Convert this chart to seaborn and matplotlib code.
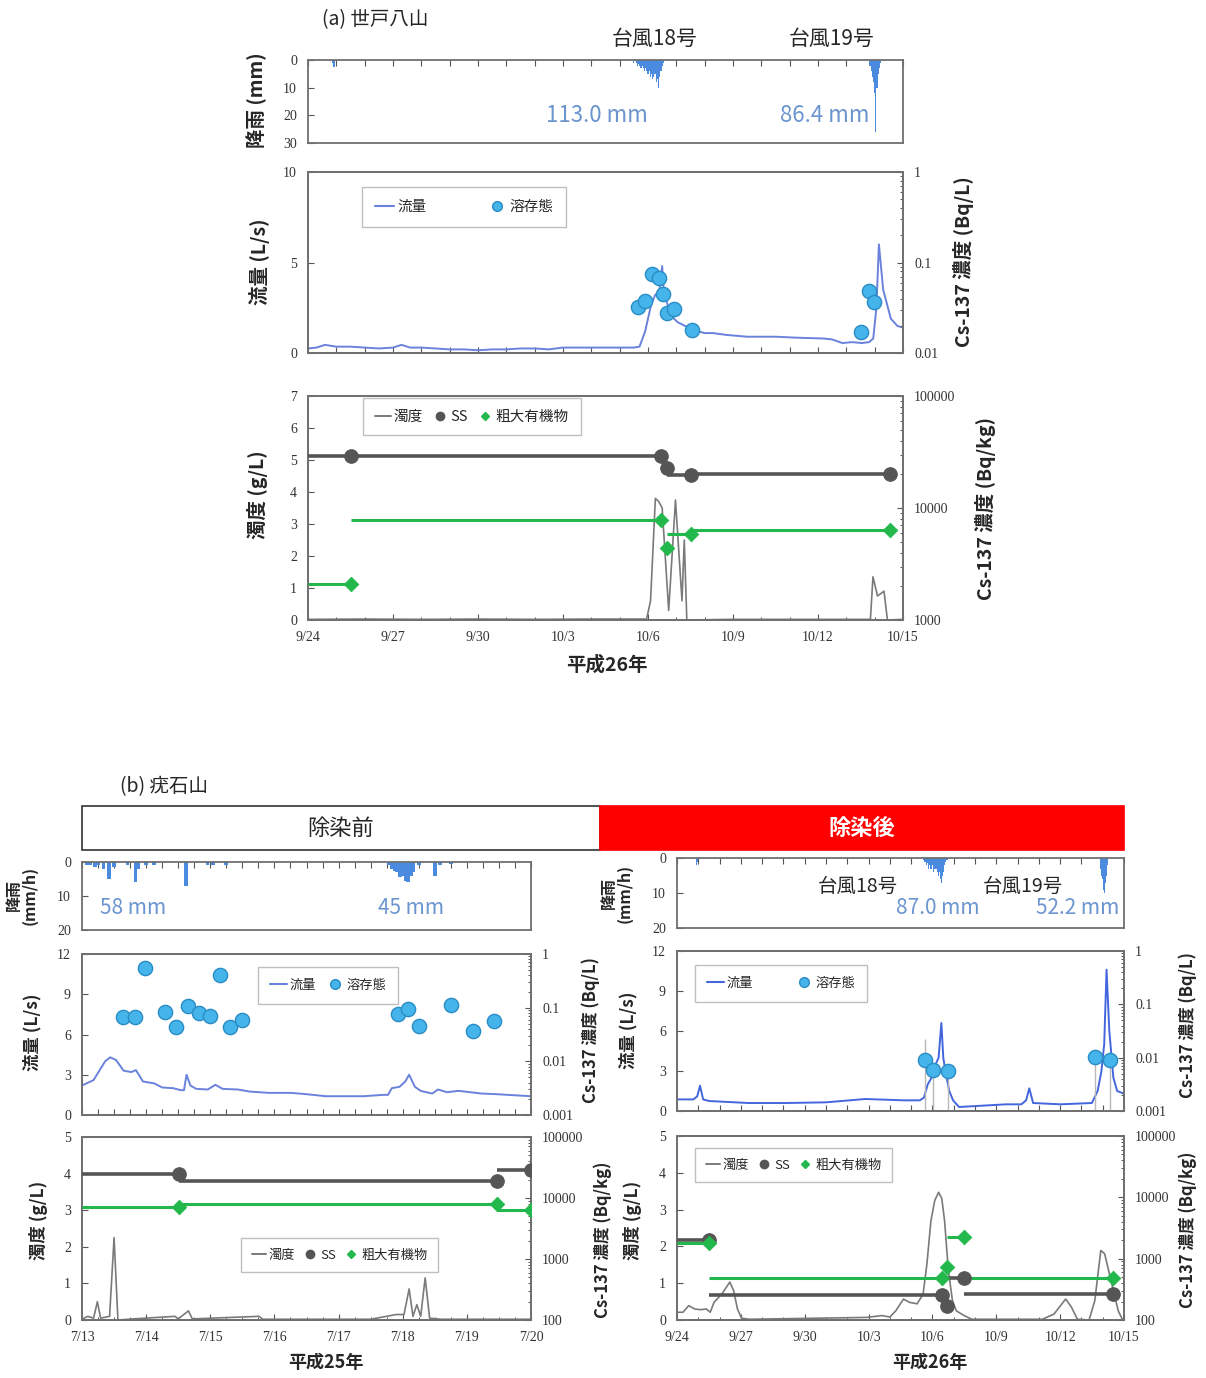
import matplotlib
matplotlib.use("Agg")
import matplotlib.pyplot as plt
from matplotlib.lines import Line2D
from matplotlib.patches import Rectangle
from matplotlib.ticker import MultipleLocator, FixedLocator, LogLocator, NullFormatter, FuncFormatter
import seaborn as sns

sns.set_style("ticks")
plt.rcParams["font.family"] = ["Noto Sans CJK JP", "DejaVu Sans"]

W, H = 1206, 1378

# colours
RAIN = "#4a8be0"
FLOW = "#6a82dc"
FLOW2 = "#4466dd"
DISS = "#45b4ea"
DISS_EDGE = "#2a8cc4"
SS_C = "#555555"
ORG = "#22b84c"
TURB = "#7a7a7a"
MM_TXT = "#6b95cf"

# ================= (a) 世戸八山  H26 9/24 - 10/15 (days from 9/24) =================
a_ticklabels = ["9/24", "9/27", "9/30", "10/3", "10/6", "10/9", "10/12", "10/15"]

# hourly rain (hour from 9/24 0:00, mm)
a_rain_hour = [21, 22,
               276, 277, 278, 279, 280, 281, 282, 283, 284, 285, 286, 287, 288, 289,
               290, 291, 292, 293, 294, 295, 296, 297, 298, 299, 300, 301, 302,
               476, 477, 478, 479, 480, 481, 482, 483, 484, 485]
a_rain_mm = [1, 2.5,
             1, 0.5, 1, 2, 1.5, 2, 3, 2, 3, 4, 3, 4, 5, 4,
             6, 5, 7, 6, 5, 8, 7, 10, 6, 4, 2, 1, 0.5,
             2, 4, 6, 8, 12, 26, 10, 5, 3, 1]

# discharge (L/s)
a_flow_day = [0, 0.3, 0.6, 1.0, 1.5, 2.0, 2.5, 3.0, 3.3, 3.6,
              4.0, 4.5, 5.0, 5.5, 6.0, 6.5, 7.0, 7.5, 8.0, 8.5,
              9.0, 9.5, 10.0, 10.5, 11.0, 11.5, 11.7, 11.9, 12.1, 12.25,
              12.4, 12.5, 12.55, 12.7, 12.85, 13.05, 13.3, 13.65, 14.0, 14.3,
              14.76, 15.5, 16.5, 17.2, 18.2, 18.5, 18.86, 19.2, 19.55, 19.8,
              19.95, 20.06, 20.15, 20.3, 20.57, 20.8, 21.0]
a_flow = [0.25, 0.3, 0.45, 0.35, 0.35, 0.3, 0.25, 0.3, 0.45, 0.3,
          0.3, 0.25, 0.2, 0.2, 0.15, 0.2, 0.2, 0.25, 0.25, 0.2,
          0.3, 0.3, 0.3, 0.3, 0.3, 0.3, 0.35, 1.2, 2.6, 3.2,
          3.4, 4.8, 3.6, 2.6, 2.0, 1.7, 1.5, 1.25, 1.1, 1.1,
          1.0, 0.9, 0.9, 0.85, 0.8, 0.75, 0.55, 0.6, 0.55, 0.6,
          0.8, 2.5, 6.0, 3.5, 1.9, 1.5, 1.4]

# dissolved Cs-137 (Bq/L)
a_diss_day = [11.65, 11.88, 12.14, 12.40, 12.53, 12.67, 12.93, 13.56, 19.50, 19.80, 19.96]
a_diss = [0.032, 0.038, 0.075, 0.068, 0.045, 0.028, 0.031, 0.018, 0.017, 0.048, 0.037]

# turbidity (g/L)
a_turb_day = [0, 2, 4, 6, 8, 10, 11.95, 12.09, 12.26, 12.38, 12.5, 12.73, 12.97, 13.2,
              13.28, 13.37, 15, 17, 19.85, 19.94, 20.1, 20.33, 20.45, 21]
a_turb = [0.02, 0.03, 0.02, 0.03, 0.02, 0.03, 0.03, 0.6, 3.8, 3.7, 3.5, 0.3, 3.75, 0.6,
          2.5, 0.0, 0.02, 0.02, 0.02, 1.35, 0.75, 0.9, 0.0, 0.02]

# SS and coarse organic matter Cs-137 (Bq/kg), sample days
a_samp_day = [1.5, 12.46, 12.68, 13.5, 20.54]
a_ss = [29000, 29000, 22800, 19600, 20300]
a_org = [2100, 7800, 4350, 5900, 6350]

# ================= (b) 疣石山 before: H25 7/13 - 7/20 =================
b1_ticklabels = ["7/13", "7/14", "7/15", "7/16", "7/17", "7/18", "7/19", "7/20"]
b1_rain_hour = [2, 3, 5, 6, 8, 10, 12, 17, 20, 21, 24, 27, 39, 47, 49, 54,
                115, 116, 117, 118, 119, 120, 121, 122, 123, 124, 126, 132, 134, 138]
b1_rain_mm = [1, 0.8, 1.5, 1, 2, 5, 1.5, 1, 6, 2, 1, 1, 7, 1, 0.8, 0.8,
              1, 2, 2.5, 3, 4.5, 4, 5.5, 6, 4, 3, 1, 4, 1, 0.5]

b1_flow_day = [0, 0.18, 0.36, 0.44, 0.53, 0.65, 0.77, 0.84, 0.95, 1.13,
               1.25, 1.42, 1.54, 1.59, 1.63, 1.69, 1.78, 1.96, 2.08, 2.19,
               2.43, 2.61, 2.91, 3.26, 3.5, 3.8, 4.39, 4.69, 4.77, 4.83,
               4.95, 5.04, 5.1, 5.19, 5.28, 5.46, 5.55, 5.69, 5.87, 6.05,
               6.23, 6.47, 6.64, 7.0]
b1_flow = [2.2, 2.6, 4.0, 4.3, 4.1, 3.3, 3.2, 3.35, 2.5, 2.35,
           2.05, 2.0, 1.85, 1.85, 3.0, 2.2, 1.95, 1.9, 2.25, 1.95,
           1.9, 1.75, 1.65, 1.65, 1.55, 1.4, 1.4, 1.5, 1.5, 2.0,
           2.1, 2.5, 3.0, 2.1, 1.8, 1.6, 1.9, 1.7, 1.8, 1.7,
           1.6, 1.55, 1.5, 1.4]

b1_diss_day = [0.64, 0.82, 0.98, 1.30, 1.47, 1.65, 1.82, 1.99, 2.15, 2.31, 2.49,
               4.92, 5.09, 5.26, 5.75, 6.09, 6.42]
b1_diss = [0.068, 0.068, 0.54, 0.084, 0.043, 0.109, 0.080, 0.069, 0.406, 0.043, 0.059,
           0.076, 0.094, 0.045, 0.114, 0.036, 0.057]

b1_turb_day = [0, 0.09, 0.18, 0.24, 0.29, 0.43, 0.5, 0.56, 0.8, 1.45, 1.5, 1.66, 1.72,
               2.76, 2.82, 4.5, 4.9, 5.02, 5.1, 5.16, 5.22, 5.28, 5.35, 5.42, 5.6, 7.0]
b1_turb = [0.02, 0.1, 0.05, 0.5, 0.05, 0.1, 2.25, 0.0, 0.03, 0.1, 0.03, 0.25, 0.03,
           0.1, 0.02, 0.02, 0.15, 0.15, 0.85, 0.1, 0.42, 0.1, 1.15, 0.05, 0.02, 0.02]

b1_samp_day = [1.51, 6.47, 7.0]
b1_ss = [24850, 18850, 28500]
b1_org = [7100, 7840, 6260]

# ================= (b) 疣石山 after: H26 9/24 - 10/15 =================
b2_rain_hour = [22, 23,
                278, 279, 280, 281, 282, 283, 284, 285, 286, 287, 288, 289, 290, 291,
                292, 293, 294, 295, 296, 297, 298, 299, 300, 301, 302, 303, 304, 305,
                477, 478, 479, 480, 481, 482, 483, 484, 485]
b2_rain_mm = [2, 1,
              0.5, 1, 1, 2, 1.5, 2, 3, 2, 3, 3, 2, 4, 3, 3,
              4, 3, 4, 5, 4, 6, 7, 5, 4, 3, 2, 1, 0.5, 0.5,
              2, 3, 5, 6, 9, 10, 7, 5, 2]

b2_flow_day = [0, 0.77, 0.95, 1.08, 1.23, 1.5, 3.34, 5.17, 7.0, 8.84,
               10.68, 11.41, 11.6, 11.78, 11.96, 12.15, 12.29, 12.42, 12.51, 12.61,
               12.79, 12.97, 13.25, 14.35, 15.45, 16.18, 16.4, 16.55, 16.73, 18.02,
               19.49, 19.76, 19.94, 20.07, 20.18, 20.31, 20.5, 20.68, 21.0]
b2_flow = [0.87, 0.87, 1.1, 1.9, 0.87, 0.75, 0.6, 0.6, 0.65, 0.9,
           0.8, 0.8, 1.0, 2.0, 2.5, 3.5, 4.0, 6.6, 4.0, 3.0,
           1.5, 0.8, 0.3, 0.4, 0.5, 0.5, 0.8, 1.7, 0.6, 0.5,
           0.6, 1.5, 3.0, 5.0, 10.6, 6.0, 2.5, 1.5, 1.3]

b2_diss_day = [11.66, 12.02, 12.73, 19.63, 20.35]
b2_diss = [0.009, 0.0058, 0.0056, 0.0103, 0.009]
b2_diss_hi = [0.022, 0.0058, 0.0056, 0.0103, 0.009]

b2_turb_day = [0, 0.28, 0.55, 0.83, 1.1, 1.38, 1.56, 1.74, 2.11, 2.48, 2.66, 2.84, 3.03,
               3.39, 8.9, 9.63, 10.0, 10.28, 10.64, 10.92, 11.28, 11.56, 11.74, 11.93,
               12.11, 12.29, 12.44, 12.57, 12.75, 12.94, 13.12, 13.49, 13.85, 17.16,
               17.71, 18.26, 18.53, 18.81, 19.36, 19.63, 19.91, 20.09, 20.28, 20.46,
               20.73, 20.92]
b2_turb = [0.21, 0.21, 0.39, 0.3, 0.28, 0.3, 0.21, 0.48, 0.71, 1.03, 0.8, 0.3, 0.05,
           0.02, 0.07, 0.12, 0.08, 0.25, 0.57, 0.48, 0.44, 0.7, 1.52, 2.7,
           3.25, 3.47, 3.3, 2.7, 1.34, 0.53, 0.25, 0.12, 0.02, 0.02,
           0.16, 0.57, 0.35, 0.02, 0.0, 0.53, 1.89, 1.8, 1.34, 0.9,
           0.25, 0.02]

b2_samp_day = [1.5, 12.45, 12.67, 13.5, 20.5]
b2_ss = [2025, 256, 171, 479, 266]
b2_org = [1786, 479, 724, 2296, 479]

# ---------------------------------------------------------------------------
fig = plt.figure(figsize=(W / 100, H / 100), dpi=100)


def txt(x, y, s, **kw):
    ha = kw.pop("ha", "center")
    va = kw.pop("va", "center")
    fig.text(x / W, 1 - y / H, s, ha=ha, va=va, **kw)


def style(ax):
    for s in ax.spines.values():
        s.set_visible(True)
        s.set_color("#707070")
        s.set_linewidth(1.3)
    ax.tick_params(which="major", direction="in", labelsize=10, length=4, width=0.8, pad=8,
                   color="#555555", labelcolor="#333333", labelfontfamily="Liberation Serif")
    ax.tick_params(which="minor", direction="in", length=2.5, width=0.7, color="#555555")
    ax.set_xlabel("")
    ax.set_ylabel("")


def box_ax(x0, y0, x1, y1):
    ax = fig.add_axes([x0 / W, 1 - y1 / H, (x1 - x0) / W, (y1 - y0) / H])
    style(ax)
    return ax


def log_right(ax, lo, hi):
    ax2 = ax.twinx()
    style(ax2)
    ax2.set_yscale("log")
    ax2.set_ylim(lo, hi)
    ax2.yaxis.set_major_locator(LogLocator(base=10))
    ax2.yaxis.set_major_formatter(FuncFormatter(lambda v, p: f"{v:g}"))
    ax2.yaxis.set_minor_locator(LogLocator(base=10, subs=range(2, 10)))
    ax2.yaxis.set_minor_formatter(NullFormatter())
    ax2.tick_params(axis="y", left=False, right=True, labelleft=False, labelright=True)
    return ax2


def rain_axis(box, hours, mm, ymax, yticks, ndays, step, width):
    ax = box_ax(*box)
    ax.bar([h / 24 for h in hours], mm, width=width / 24, color=RAIN, linewidth=0)
    ax.set_xlim(0, ndays)
    ax.set_ylim(ymax, 0)
    ax.set_yticks(yticks)
    ax.xaxis.set_major_locator(MultipleLocator(step))
    ax.tick_params(axis="x", top=True, bottom=False, labelbottom=False)
    return ax


def flow_axis(box, fday, fval, fcol, dday, dval, ymax, yticks, rlo, ndays, step):
    ax = box_ax(*box)
    sns.lineplot(x=fday, y=fval, ax=ax, color=fcol, lw=1.4)
    ax.set_xlim(0, ndays)
    ax.set_ylim(0, ymax)
    ax.set_yticks(yticks)
    ax.xaxis.set_major_locator(MultipleLocator(step))
    ax.tick_params(axis="x", labelbottom=False)
    style(ax)
    ax2 = log_right(ax, rlo, 1)
    sns.scatterplot(x=dday, y=dval, ax=ax2, s=105, color=DISS, edgecolor=DISS_EDGE,
                    linewidth=1.0, zorder=5)
    ax2.set_xlim(0, ndays)
    style(ax2)
    ax2.tick_params(axis="y", left=False, right=True, labelleft=False, labelright=True)
    return ax, ax2


def turb_axis(box, tday, tval, sday, ss, org, ymax, rlo, ndays, step, ticklabels, tickstep):
    ax = box_ax(*box)
    sns.lineplot(x=tday, y=tval, ax=ax, color=TURB, lw=1.2)
    ax.set_xlim(0, ndays)
    ax.set_ylim(0, ymax)
    ax.set_yticks(range(0, ymax + 1))
    ax.xaxis.set_major_locator(FixedLocator([i * tickstep for i in range(len(ticklabels))]))
    ax.set_xticklabels(ticklabels)
    ax.xaxis.set_minor_locator(MultipleLocator(step))
    style(ax)
    ax2 = log_right(ax, rlo, 100000)
    starts = [0] + sday[:-1]
    ax2.hlines(ss, starts, sday, color=SS_C, lw=2.6, zorder=3)
    ax2.hlines(org, starts, sday, color=ORG, lw=2.2, zorder=3)
    sns.scatterplot(x=sday, y=ss, ax=ax2, s=95, color=SS_C, edgecolor=SS_C, zorder=5)
    sns.scatterplot(x=sday, y=org, ax=ax2, s=55, marker="D", color=ORG, edgecolor=ORG, zorder=6)
    ax2.set_xlim(0, ndays)
    style(ax2)
    ax2.tick_params(axis="y", left=False, right=True, labelleft=False, labelright=True)
    return ax, ax2


def flow_legend(ax, x, y, col, spacing, fs):
    h = [Line2D([], [], color=col, lw=1.5),
         Line2D([], [], ls="none", marker="o", ms=7, mfc=DISS, mec=DISS_EDGE)]
    leg = ax.legend(h, ["流量", "溶存態"], loc="upper left", ncol=2,
                    bbox_to_anchor=(x / W, 1 - y / H), bbox_transform=fig.transFigure,
                    frameon=True, fancybox=False, edgecolor="#b0b0b0", fontsize=fs,
                    handlelength=1.3, handletextpad=0.2, columnspacing=spacing, borderpad=0.9,
                    borderaxespad=0)
    leg.get_frame().set_linewidth(1.0)


def turb_legend(ax, x, y, fs):
    h = [Line2D([], [], color=TURB, lw=1.4),
         Line2D([], [], ls="none", marker="o", ms=6, mfc=SS_C, mec=SS_C),
         Line2D([], [], ls="none", marker="D", ms=4, mfc=ORG, mec=ORG)]
    leg = ax.legend(h, ["濁度", "SS", "粗大有機物"], loc="upper left", ncol=3,
                    bbox_to_anchor=(x / W, 1 - y / H), bbox_transform=fig.transFigure,
                    frameon=True, fancybox=False, edgecolor="#b0b0b0", fontsize=fs,
                    handlelength=1.1, handletextpad=0.2, columnspacing=0.6, borderpad=0.8,
                    borderaxespad=0)
    leg.get_frame().set_linewidth(1.0)


# ======================= panel (a) =======================
rain_axis((308, 60, 903, 143), a_rain_hour, a_rain_mm, 30, [0, 10, 20, 30], 21, 1, 1)
ax, ax2 = flow_axis((308, 172, 903, 353), a_flow_day, a_flow, FLOW, a_diss_day, a_diss,
                    10, [0, 5, 10], 0.01, 21, 1)
flow_legend(ax2, 362, 187, FLOW, 4.2, 10.5)
ax, ax2 = turb_axis((308, 396, 903, 620), a_turb_day, a_turb, a_samp_day, a_ss, a_org,
                    7, 1000, 21, 1, a_ticklabels, 3)
turb_legend(ax2, 363, 398, 10.5)

txt(322, 20, "(a) 世戸八山", fontsize=14, ha="left")
txt(655, 39, "台風18号", fontsize=15)
txt(832, 39, "台風19号", fontsize=15)
txt(597, 116, "113.0 mm", fontsize=16, color=MM_TXT)
txt(825, 116, "86.4 mm", fontsize=16, color=MM_TXT)
txt(257, 100, "降雨 (mm)", fontsize=14, fontweight="bold", rotation=90)
txt(260, 262, "流量 (L/s)", fontsize=14, fontweight="bold", rotation=90)
txt(963, 262, "Cs-137 濃度 (Bq/L)", fontsize=14, fontweight="bold", rotation=90)
txt(257, 495, "濁度 (g/L)", fontsize=14, fontweight="bold", rotation=90)
txt(985, 508, "Cs-137 濃度 (Bq/kg)", fontsize=14, fontweight="bold", rotation=90)
txt(607, 665, "平成26年", fontsize=14, fontweight="bold")

# ======================= panel (b) =======================
txt(120, 787, "(b) 疣石山", fontsize=14, ha="left")
fig.add_artist(Rectangle((82 / W, 1 - 850 / H), (600 - 82) / W, 44 / H, transform=fig.transFigure,
                         facecolor="white", edgecolor="#333333", lw=1.2))
fig.add_artist(Rectangle((600 / W, 1 - 850 / H), (1124 - 600) / W, 44 / H, transform=fig.transFigure,
                         facecolor="#ff0000", edgecolor="#ff0000", lw=1.2))
txt(341, 828, "除染前", fontsize=16)
txt(862, 828, "除染後", fontsize=16, color="white", fontweight="bold")

# before
rain_axis((82, 862, 531, 930), b1_rain_hour, b1_rain_mm, 20, [0, 10, 20], 7, 0.25, 1.4)
ax, ax2 = flow_axis((82, 954, 531, 1115), b1_flow_day, b1_flow, FLOW, b1_diss_day, b1_diss,
                    12, [0, 3, 6, 9, 12], 0.001, 7, 0.25)
flow_legend(ax2, 258, 967, FLOW, 0.8, 9.5)
ax, ax2 = turb_axis((82, 1137, 531, 1320), b1_turb_day, b1_turb, b1_samp_day, b1_ss, b1_org,
                    5, 100, 7, 0.25, b1_ticklabels, 1)
turb_legend(ax2, 241, 1238, 9.5)

txt(133, 908, "58 mm", fontsize=15, color=MM_TXT)
txt(411, 908, "45 mm", fontsize=15, color=MM_TXT)
txt(22, 895, "降雨\n(mm/h)", fontsize=11.5, fontweight="bold", rotation=90, linespacing=1.0)
txt(32, 1032, "流量 (L/s)", fontsize=12.5, fontweight="bold", rotation=90)
txt(591, 1030, "Cs-137 濃度 (Bq/L)", fontsize=12, fontweight="bold", rotation=90)
txt(38, 1220, "濁度 (g/L)", fontsize=12.5, fontweight="bold", rotation=90)
txt(603, 1240, "Cs-137 濃度 (Bq/kg)", fontsize=12, fontweight="bold", rotation=90)
txt(326, 1363, "平成25年", fontsize=13, fontweight="bold")

# after
rain_axis((677, 858, 1124, 928), b2_rain_hour, b2_rain_mm, 20, [0, 10, 20], 21, 1, 1)
ax, ax2 = flow_axis((677, 951, 1124, 1111), b2_flow_day, b2_flow, FLOW2, b2_diss_day, b2_diss,
                    12, [0, 3, 6, 9, 12], 0.001, 21, 1)
ax2.vlines(b2_diss_day, 0.001, b2_diss_hi, color="#b8b8b8", lw=1.0, zorder=2)
flow_legend(ax2, 695, 965, FLOW2, 3.2, 9.5)
ax, ax2 = turb_axis((677, 1136, 1124, 1320), b2_turb_day, b2_turb, b2_samp_day, b2_ss, b2_org,
                    5, 100, 21, 1, a_ticklabels, 3)
turb_legend(ax2, 695, 1148, 9.5)

txt(858, 886, "台風18号", fontsize=14)
txt(1023, 886, "台風19号", fontsize=14)
txt(938, 908, "87.0 mm", fontsize=15, color=MM_TXT)
txt(1078, 908, "52.2 mm", fontsize=15, color=MM_TXT)
txt(617, 893, "降雨\n(mm/h)", fontsize=11.5, fontweight="bold", rotation=90, linespacing=1.0)
txt(628, 1030, "流量 (L/s)", fontsize=12.5, fontweight="bold", rotation=90)
txt(1188, 1025, "Cs-137 濃度 (Bq/L)", fontsize=12, fontweight="bold", rotation=90)
txt(633, 1220, "濁度 (g/L)", fontsize=12.5, fontweight="bold", rotation=90)
txt(1188, 1230, "Cs-137 濃度 (Bq/kg)", fontsize=12, fontweight="bold", rotation=90)
txt(930, 1363, "平成26年", fontsize=13, fontweight="bold")

fig.savefig("out.png", dpi=100)
